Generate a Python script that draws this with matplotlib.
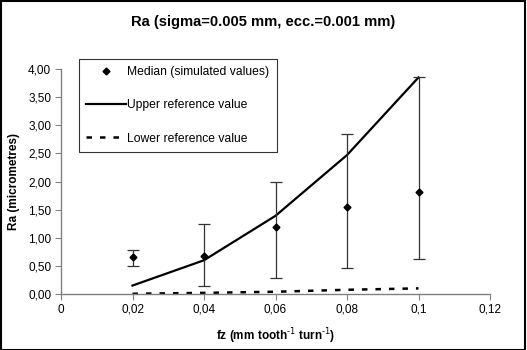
import matplotlib
matplotlib.use("Agg")
import matplotlib.pyplot as plt
from matplotlib.patches import Rectangle
from matplotlib.lines import Line2D
from matplotlib.ticker import FuncFormatter

plt.rcParams['font.family'] = ['Liberation Sans', 'DejaVu Sans']

fz = [0.02, 0.04, 0.06, 0.08, 0.10]
median = [0.65, 0.68, 1.19, 1.54, 1.81]
err_top = [0.78, 1.24, 2.00, 2.85, 3.85]
err_bottom = [0.49, 0.15, 0.29, 0.46, 0.63]
upper_ref = [0.15, 0.60, 1.39, 2.47, 3.85]
lower_ref = [0.004, 0.02, 0.04, 0.075, 0.10]

W, H = 527, 350
fig = plt.figure(figsize=(W / 100, H / 100), dpi=100)
ax = fig.add_axes([61 / W, 1 - 294 / H, (490 - 61) / W, (294 - 69) / H])

dash = (0, (2.2, 3.2))
ax.plot(fz, upper_ref, color='black', lw=1.6)
ax.plot(fz, lower_ref, color='black', lw=1.8, ls=dash)
yerr = [[m - b for m, b in zip(median, err_bottom)], [t - m for m, t in zip(median, err_top)]]
ax.errorbar(fz, median, yerr=yerr, fmt='D', color='black', ms=3.5, ecolor='#333333',
            elinewidth=0.9, capsize=4, capthick=0.9)

ax.set_xlim(0, 0.12)
ax.set_ylim(0, 4.0)
ax.set_xticks([0, 0.02, 0.04, 0.06, 0.08, 0.10, 0.12])
ax.set_yticks([0, 0.5, 1.0, 1.5, 2.0, 2.5, 3.0, 3.5, 4.0])
ax.xaxis.set_major_formatter(FuncFormatter(lambda v, p: ('%g' % round(v, 2)).replace('.', ',')))
ax.yaxis.set_major_formatter(FuncFormatter(lambda v, p: ('%.2f' % v).replace('.', ',')))
for s in ['top', 'right']:
    ax.spines[s].set_visible(False)
for s in ['left', 'bottom']:
    ax.spines[s].set_color('#808080')
    ax.spines[s].set_linewidth(1.0)
ax.tick_params(direction='out', length=4, color='#808080', labelsize=8.5, pad=3)

ax.set_xlabel(r'fz (mm tooth$^{\text{-1}}$ turn$^{\text{-1}}$)', fontsize=8.5, fontweight='bold', labelpad=8)
ax.set_ylabel('Ra (micrometres)', fontsize=8.5, fontweight='bold', labelpad=6)
fig.text(0.5, 1 - 22 / H, 'Ra (sigma=0.005 mm, ecc.=0.001 mm)',
         ha='center', va='center', fontsize=10.6, fontweight='bold')

handles = [Line2D([], [], ls='none', marker='D', color='black', ms=3.5),
           Line2D([], [], color='black', lw=1.6),
           Line2D([], [], color='black', lw=1.8, ls=dash)]
labels = ['Median (simulated values)', 'Upper reference value', 'Lower reference value']
leg = ax.legend(handles, labels,
                loc='upper left', bbox_to_anchor=((79 - 61) / (490 - 61), 1 + (69 - 59) / (294 - 69)),
                frameon=True, fancybox=False, fontsize=8.7, labelspacing=1.75,
                handlelength=3.3, handletextpad=0.1, borderpad=0.6, borderaxespad=0)
leg.get_frame().set_edgecolor('black')
leg.get_frame().set_linewidth(0.8)

fig.patches.append(Rectangle((1 / W, 0), 1 - 3 / W, 1 - 1 / H, transform=fig.transFigure,
                             fill=False, edgecolor='black', lw=1.5))

fig.savefig('out.png', dpi=100)
